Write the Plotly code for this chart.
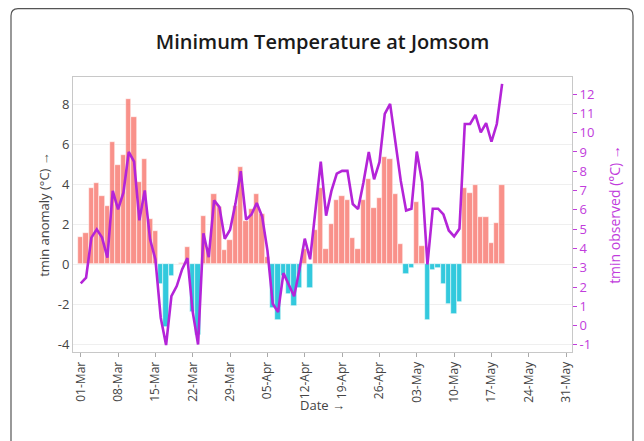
import pandas as pd
import plotly.graph_objects as go

# ---------------- data ----------------
start_date = "2024-03-01"

tmin_anomaly = [
    1.39, 1.59, 3.80, 4.08, 3.40, 2.90, 6.11, 4.99, 5.49, 8.30,
    7.40, 4.10, 5.29, 2.29, 1.67, -1.00, -3.11, -0.60, 0.00, 0.07,
    0.87, -2.38, -3.51, 2.40, 0.80, 3.50, 2.87, 0.70, 1.20, 2.92,
    4.90, 2.15, 2.78, 3.50, 2.53, 0.37, -2.17, -2.77, -0.60, -1.47,
    -2.07, -1.17, 0.78, -1.17, 1.70, 3.80, 0.78, 2.00, 3.20, 3.40,
    3.20, 1.32, 0.78, 3.20, 4.28, 2.80, 3.33, 5.40, 5.30, 3.50,
    1.00, -0.47, -0.17, 3.10, 0.90, -2.77, -0.27, -0.17, -0.97, -1.97,
    -2.47, -1.87, 3.80, 3.57, 3.97, 2.37, 2.37, 1.07, 2.08, 3.97,
]

tmin_observed = [
    2.19, 2.48, 4.56, 4.99, 4.56, 3.52, 6.98, 6.03, 6.89, 9.00,
    8.50, 5.46, 7.01, 4.47, 3.43, 0.40, -1.01, 1.53, 2.05, 2.91,
    3.50, 0.70, -0.98, 4.79, 3.55, 6.49, 6.14, 4.50, 4.97, 6.31,
    8.00, 5.49, 5.76, 6.35, 5.66, 3.90, 1.13, 0.70, 2.72, 2.15,
    1.52, 2.90, 4.51, 3.44, 6.00, 8.50, 5.70, 6.98, 7.88, 8.02,
    8.02, 6.30, 6.04, 7.42, 9.00, 7.58, 8.47, 10.97, 11.49, 9.55,
    7.50, 5.97, 6.06, 9.02, 7.44, 3.17, 6.06, 6.06, 5.76, 4.93,
    4.62, 5.02, 10.45, 10.45, 10.92, 10.02, 10.50, 9.53, 10.45, 12.53,
]

anomaly_tickvals = [-4, -2, 0, 2, 4, 6, 8]
anomaly_ticktext = ["-4", "-2", "0", "2", "4", "6", "8"]
observed_tickvals = list(range(-1, 13))
observed_ticktext = [str(v) for v in observed_tickvals]

# ---------------- styling ----------------
FONT = "Open Sans"
PINK = "rgba(248,118,109,0.8)"
BLUE = "rgba(0,188,212,0.8)"
PURPLE = "#B424D8"
PURPLE_TXT = "#C13CDC"

# the page body adds an 8px offset; size the figure to the visible area
OFF = 8
W, H = 644 - OFF, 441 - OFF
ML, MT = 73 - OFF, 77 - OFF
MR = W - (572 - OFF)
MB = H - (352 - OFF)
PW, PH = W - ML - MR, H - MT - MB

dates = pd.date_range(start_date, periods=len(tmin_anomaly), freq="D")
bar_colors = [PINK if v >= 0 else BLUE for v in tmin_anomaly]

fig = go.Figure()
fig.add_trace(go.Bar(
    x=dates, y=tmin_anomaly,
    marker=dict(color=bar_colors, line=dict(color="rgba(255,255,255,0.9)", width=0.6)),
    yaxis="y", showlegend=False,
))
fig.add_trace(go.Scatter(
    x=dates, y=tmin_observed, mode="lines",
    line=dict(color=PURPLE, width=2.6),
    yaxis="y2", showlegend=False,
))

t0 = pd.Timestamp(start_date)
x_range = [t0 - pd.Timedelta(days=1.45), t0 + pd.Timedelta(days=92.1)]


def px2paper(sx, sy):
    # screen pixel -> paper coordinates
    fx, fy = sx - OFF, sy - OFF
    return (fx - ML) / PW, (H - MB - fy) / PH


def path_from(points):
    parts = []
    for cmd, pts in points:
        coords = " ".join("%.5f,%.5f" % px2paper(*p) for p in pts)
        parts.append(cmd + coords)
    return " ".join(parts)


r1 = 7
top = 8.7
card = path_from([
    ("M", [(11, 480)]),
    ("L", [(11, top + r1)]),
    ("Q", [(11, top), (11 + r1, top)]),
    ("L", [(633 - r1, top)]),
    ("Q", [(633, top), (633, top + r1)]),
    ("L", [(633, 480)]),
])

date_title_pos = px2paper(322.5, 405)

fig.update_layout(
    width=W, height=H,
    margin=dict(l=ML, r=MR, t=MT, b=MB, pad=0),
    paper_bgcolor="white", plot_bgcolor="white",
    font=dict(family=FONT, size=12, color="#444"),
    title=dict(
        text="Minimum Temperature at Jomsom",
        x=0.5, xanchor="center", xref="paper",
        y=1 - (42 - OFF) / H, yanchor="middle", yref="container",
        font=dict(family=FONT, size=20, color="#1a1a1a", weight=600),
    ),
    bargap=0,
    showlegend=False,
    xaxis=dict(
        type="date", range=x_range,
        tick0=start_date, dtick=7 * 86400000, tickformat="%d-%b",
        tickangle=-90, ticks="outside", ticklen=4, tickcolor="#aaa",
        tickfont=dict(size=12, color="#444"),
        showgrid=False, zeroline=False,
        showline=True, mirror=True, linecolor="#c8c8c8", linewidth=1,
    ),
    yaxis=dict(
        range=[-4.385, 9.38],
        tickvals=anomaly_tickvals, ticktext=anomaly_ticktext,
        tickfont=dict(size=13, color="#444"),
        showgrid=True, gridcolor="#efefef", gridwidth=1,
        zeroline=False, ticks="",
        showline=True, mirror=True, linecolor="#c8c8c8", linewidth=1,
        title=dict(text="tmin anomaly (°C) →", font=dict(size=13, color="#444"), standoff=5),
    ),
    yaxis2=dict(
        overlaying="y", side="right",
        range=[-1.368, 12.886],
        tickvals=observed_tickvals, ticktext=observed_ticktext,
        tickfont=dict(size=13, color=PURPLE_TXT),
        ticks="outside", ticklen=4, tickcolor=PURPLE_TXT,
        showgrid=False, zeroline=False, showline=False,
        title=dict(text="tmin observed (°C) →", font=dict(size=14, color=PURPLE_TXT), standoff=16),
    ),
    annotations=[
        dict(text="Date →", xref="paper", yref="paper",
             x=date_title_pos[0], y=date_title_pos[1],
             xanchor="center", yanchor="middle", showarrow=False,
             font=dict(size=13, color="#444")),
    ],
    shapes=[
        dict(type="path", xref="paper", yref="paper", path=card,
             line=dict(color="#555", width=1.2), layer="above"),
    ],
)

fig.write_html("out.html")
